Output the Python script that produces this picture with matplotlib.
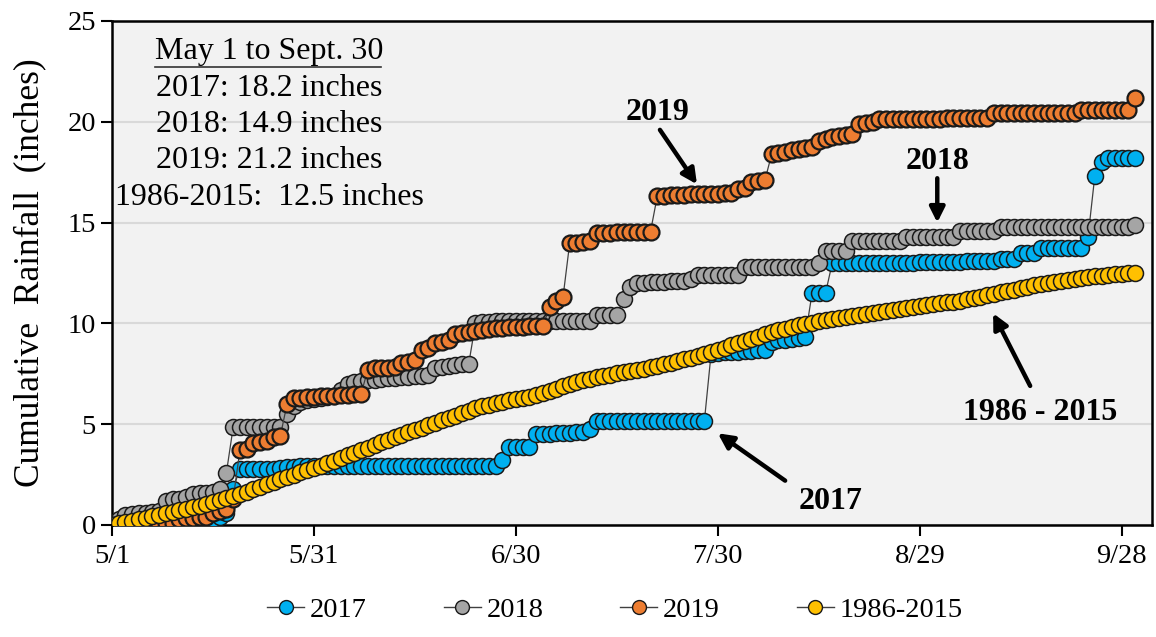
import matplotlib
matplotlib.use("Agg")
import matplotlib.pyplot as plt
from matplotlib.lines import Line2D

plt.rcParams['font.family'] = ['Liberation Serif', 'DejaVu Serif']

# ---- data: cumulative rainfall (inches), one value per day from May 1 (day 0) to Sept 30 (day 152)
days = list(range(153))

rain_2017 = [
    0.00, 0.00, 0.00, 0.00, 0.02, 0.05, 0.05, 0.05, 0.08, 0.08,
    0.10, 0.12, 0.15, 0.20, 0.25, 0.30, 0.40, 0.60, 1.80, 2.80,
    2.80, 2.80, 2.80, 2.80, 2.80, 2.85, 2.90, 2.90, 2.95, 2.95,
    2.95, 2.95, 2.95, 2.95, 2.95, 2.95, 2.95, 2.95, 2.95, 2.95,
    2.95, 2.95, 2.95, 2.95, 2.95, 2.95, 2.95, 2.95, 2.95, 2.95,
    2.95, 2.95, 2.95, 2.95, 2.95, 2.95, 2.95, 2.95, 3.20, 3.85,
    3.85, 3.85, 3.85, 4.50, 4.50, 4.50, 4.55, 4.55, 4.55, 4.60,
    4.60, 4.75, 5.15, 5.15, 5.15, 5.15, 5.15, 5.15, 5.15, 5.15,
    5.15, 5.15, 5.15, 5.15, 5.15, 5.15, 5.15, 5.15, 5.15, 8.50,
    8.55, 8.60, 8.60, 8.60, 8.65, 8.65, 8.70, 8.70, 9.10, 9.20,
    9.20, 9.25, 9.30, 9.35, 11.50, 11.50, 11.50, 13.00, 13.00, 13.00,
    13.00, 13.00, 13.00, 13.00, 13.00, 13.00, 13.02, 13.02, 13.02, 13.02,
    13.04, 13.04, 13.04, 13.04, 13.06, 13.06, 13.06, 13.08, 13.08, 13.08,
    13.10, 13.10, 13.20, 13.20, 13.20, 13.50, 13.50, 13.50, 13.75, 13.75,
    13.75, 13.75, 13.75, 13.75, 13.75, 14.30, 17.30, 18.00, 18.20, 18.20,
    18.20, 18.20, 18.20,
]

rain_2018 = [
    0.00, 0.30, 0.50, 0.55, 0.60, 0.60, 0.65, 0.70, 1.20, 1.30,
    1.30, 1.40, 1.55, 1.60, 1.60, 1.65, 1.80, 2.60, 4.85, 4.85,
    4.85, 4.85, 4.85, 4.85, 4.85, 4.85, 5.50, 5.90, 6.10, 6.20,
    6.25, 6.30, 6.35, 6.40, 6.70, 7.00, 7.10, 7.15, 7.20, 7.20,
    7.25, 7.30, 7.30, 7.35, 7.35, 7.40, 7.40, 7.45, 7.80, 7.85,
    7.90, 7.95, 8.00, 8.00, 10.00, 10.05, 10.05, 10.10, 10.10, 10.10,
    10.10, 10.10, 10.10, 10.10, 10.10, 10.10, 10.10, 10.10, 10.10, 10.10,
    10.10, 10.10, 10.40, 10.40, 10.40, 10.40, 11.20, 11.80, 12.00, 12.00,
    12.05, 12.05, 12.05, 12.10, 12.10, 12.10, 12.20, 12.40, 12.40, 12.40,
    12.40, 12.40, 12.40, 12.40, 12.80, 12.80, 12.80, 12.80, 12.80, 12.80,
    12.80, 12.80, 12.80, 12.80, 12.80, 13.00, 13.60, 13.60, 13.60, 13.60,
    14.10, 14.10, 14.10, 14.10, 14.10, 14.10, 14.10, 14.10, 14.30, 14.30,
    14.30, 14.30, 14.30, 14.30, 14.30, 14.30, 14.60, 14.60, 14.60, 14.60,
    14.60, 14.60, 14.80, 14.80, 14.80, 14.80, 14.80, 14.80, 14.80, 14.80,
    14.80, 14.80, 14.80, 14.80, 14.80, 14.80, 14.80, 14.80, 14.80, 14.80,
    14.80, 14.80, 14.90,
]

rain_2019 = [
    0.00, 0.00, 0.00, 0.00, 0.02, 0.05, 0.05, 0.05, 0.08, 0.10,
    0.30, 0.35, 0.35, 0.40, 0.40, 0.60, 0.70, 0.80, 1.30, 3.70,
    3.75, 4.05, 4.10, 4.15, 4.35, 4.40, 6.00, 6.30, 6.30, 6.35,
    6.35, 6.40, 6.40, 6.40, 6.45, 6.45, 6.50, 6.50, 7.70, 7.80,
    7.80, 7.80, 7.85, 8.05, 8.10, 8.20, 8.70, 8.80, 9.05, 9.10,
    9.20, 9.45, 9.50, 9.55, 9.60, 9.65, 9.70, 9.75, 9.75, 9.80,
    9.80, 9.80, 9.85, 9.85, 9.85, 10.80, 11.10, 11.30, 14.00, 14.00,
    14.05, 14.10, 14.50, 14.50, 14.50, 14.55, 14.55, 14.55, 14.55, 14.55,
    14.55, 16.30, 16.30, 16.35, 16.35, 16.35, 16.40, 16.40, 16.40, 16.40,
    16.40, 16.45, 16.45, 16.65, 16.70, 17.00, 17.05, 17.10, 18.40, 18.45,
    18.50, 18.60, 18.65, 18.70, 18.75, 19.05, 19.15, 19.25, 19.30, 19.35,
    19.40, 19.90, 19.95, 20.00, 20.15, 20.15, 20.15, 20.15, 20.15, 20.15,
    20.15, 20.15, 20.15, 20.15, 20.20, 20.20, 20.20, 20.20, 20.20, 20.20,
    20.20, 20.45, 20.45, 20.45, 20.45, 20.45, 20.45, 20.45, 20.45, 20.45,
    20.45, 20.45, 20.45, 20.45, 20.60, 20.60, 20.60, 20.60, 20.60, 20.60,
    20.60, 20.60, 21.20,
]

rain_normal = [
    0.00, 0.08, 0.15, 0.22, 0.30, 0.37, 0.44, 0.51, 0.58, 0.65,
    0.73, 0.80, 0.88, 0.95, 1.03, 1.12, 1.22, 1.32, 1.43, 1.54,
    1.66, 1.78, 1.90, 2.02, 2.14, 2.26, 2.38, 2.50, 2.61, 2.72,
    2.83, 2.94, 3.06, 3.19, 3.32, 3.45, 3.58, 3.71, 3.84, 3.97,
    4.10, 4.23, 4.35, 4.47, 4.59, 4.71, 4.83, 4.95, 5.07, 5.19,
    5.31, 5.43, 5.55, 5.67, 5.78, 5.88, 5.97, 6.05, 6.12, 6.19,
    6.25, 6.30, 6.36, 6.44, 6.54, 6.65, 6.77, 6.89, 7.00, 7.09,
    7.17, 7.25, 7.32, 7.39, 7.46, 7.52, 7.58, 7.64, 7.70, 7.76,
    7.83, 7.90, 7.98, 8.06, 8.14, 8.22, 8.30, 8.38, 8.46, 8.60,
    8.70, 8.80, 8.91, 9.02, 9.13, 9.24, 9.35, 9.46, 9.56, 9.65,
    9.74, 9.82, 9.90, 9.97, 10.04, 10.10, 10.16, 10.22, 10.28, 10.33,
    10.38, 10.43, 10.48, 10.53, 10.58, 10.63, 10.68, 10.73, 10.78, 10.83,
    10.88, 10.92, 10.96, 11.00, 11.04, 11.08, 11.13, 11.19, 11.26, 11.33,
    11.40, 11.47, 11.54, 11.61, 11.68, 11.75, 11.82, 11.88, 11.94, 12.00,
    12.05, 12.10, 12.15, 12.20, 12.25, 12.29, 12.33, 12.37, 12.40, 12.43,
    12.46, 12.48, 12.50,
]

series_names = ["2017", "2018", "2019", "1986-2015"]
series_colors = ["#00B0F0", "#A5A5A5", "#ED7D31", "#FFC000"]

tick_days = [0, 30, 60, 90, 120, 150]
tick_labels = ["5/1", "5/31", "6/30", "7/30", "8/29", "9/28"]
y_ticks = [0, 5, 10, 15, 20, 25]

summary_title = "May 1 to Sept. 30"
summary_lines = ["2017: 18.2 inches", "2018: 14.9 inches", "2019: 21.2 inches",
                 "1986-2015:  12.5 inches"]

# ---- figure
fig = plt.figure(figsize=(11.56, 6.37), dpi=100)
ax = fig.add_axes([112/1156, 1-525/637, 1040/1156, 504/637])
ax.set_facecolor("#F2F2F2")

all_series = [rain_2017, rain_2018, rain_2019, rain_normal]
for vals, name, col in zip(all_series, series_names, series_colors):
    mew = 1.6 if name == "2019" else 1.1
    ax.plot(days, vals, color="#404040", lw=0.9, marker="o", ms=11.5,
            mfc=col, mec="#1a1a1a", mew=mew, label=name, zorder=3)

ax.set_xlim(0, 154.5)
ax.set_ylim(0, 25)
ax.set_xticks(tick_days)
ax.set_xticklabels(tick_labels)
ax.set_yticks(y_ticks)
ax.yaxis.grid(True, color="#D9D9D9", lw=1.5, zorder=0)
ax.set_axisbelow(True)
ax.tick_params(axis="both", direction="out", length=8, width=1.5, labelsize=20.5,
               colors="black")
ax.tick_params(axis="x", pad=6)
for sp in ax.spines.values():
    sp.set_linewidth(1.8)
    sp.set_color("black")
ax.set_ylabel("Cumulative  Rainfall  (inches)", fontsize=25.5, labelpad=15)

# summary box text
xc = (269-112)/1040
ax.text(xc, (525-52)/504, summary_title, transform=ax.transAxes, ha="center",
        va="center", fontsize=23)
ax.add_line(Line2D([0.041, 0.259], [(525-67)/504]*2, transform=ax.transAxes,
                   color="#333333", lw=1.2))
for i, line in enumerate(summary_lines):
    ax.text(xc, (525-(88+36.5*i))/504, line, transform=ax.transAxes, ha="center",
            va="center", fontsize=23)

# annotations
akw = dict(arrowstyle="-|>,head_length=0.9,head_width=0.45", color="black", lw=3.2,
           shrinkA=0, shrinkB=0)
ax.annotate("", xy=(86.9, 16.9), xytext=(81.4, 19.6), arrowprops=akw)
ax.text(81.1, 20.45, "2019", ha="center", va="center", fontsize=23, fontweight="bold")
ax.annotate("", xy=(122.6, 15.0), xytext=(122.6, 17.2), arrowprops=akw)
ax.text(122.7, 18.05, "2018", ha="center", va="center", fontsize=23, fontweight="bold")
ax.annotate("", xy=(130.9, 10.5), xytext=(136.4, 6.9), arrowprops=akw)
ax.text(137.9, 5.6, "1986 - 2015", ha="center", va="center", fontsize=23,
        fontweight="bold")
ax.annotate("", xy=(90.0, 4.55), xytext=(100.0, 2.2), arrowprops=akw)
ax.text(106.7, 1.15, "2017", ha="center", va="center", fontsize=23, fontweight="bold")

# legend
handles = [Line2D([0], [0], color="#404040", lw=1.0, marker="o", ms=10,
                  mfc=c, mec="#1a1a1a", mew=1.0) for c in series_colors]
fig.legend(handles, series_names, loc="center", bbox_to_anchor=(0.532, 1-610/637),
           ncol=4, frameon=False, fontsize=20.5, handlelength=1.3, columnspacing=2.7,
           handletextpad=0.2)

fig.savefig("out.png", dpi=100)
